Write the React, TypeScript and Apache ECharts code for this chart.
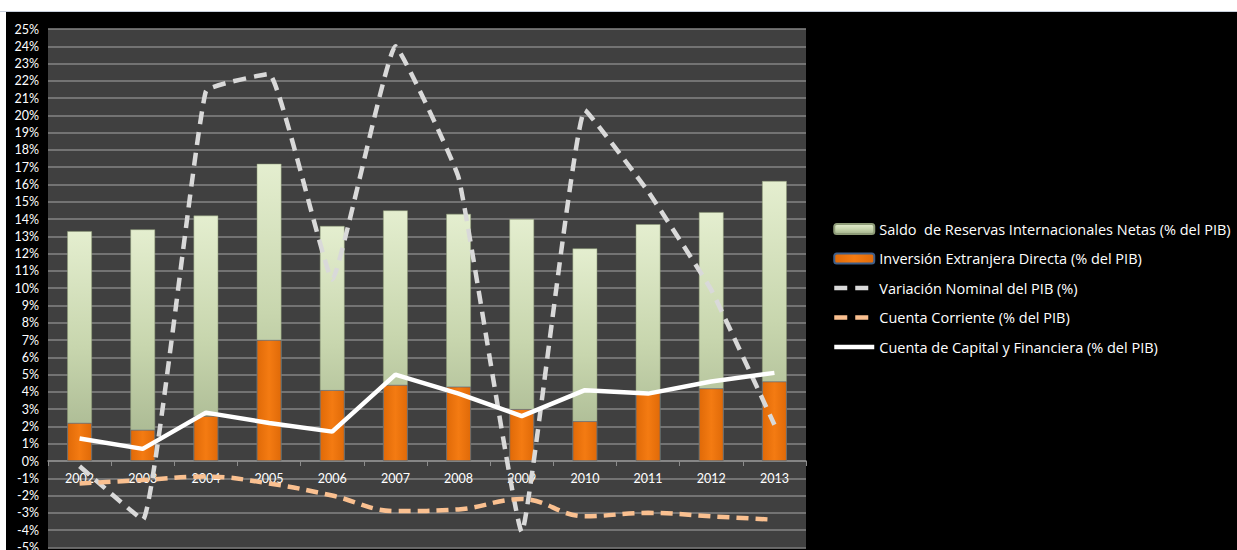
import React, { useEffect, useRef } from "react";
import * as echarts from "echarts";

const years = ["2002", "2003", "2004", "2005", "2006", "2007", "2008", "2009", "2010", "2011", "2012", "2013"];
const reservas = [13.3, 13.4, 14.2, 17.2, 13.6, 14.5, 14.3, 14.0, 12.3, 13.7, 14.4, 16.2];
const ied = [2.2, 1.8, 2.6, 7.0, 4.1, 4.4, 4.3, 3.0, 2.3, 4.0, 4.2, 4.6];
const variacionPib = [-0.3, -3.4, 21.4, 22.4, 10.5, 24.0, 16.4, -4.1, 20.3, 15.6, 9.9, 2.1];
const cuentaCorriente = [-1.3, -1.1, -0.9, -1.3, -2.0, -2.9, -2.8, -2.2, -3.2, -3.0, -3.2, -3.4];
const cuentaCapital = [1.3, 0.7, 2.8, 2.2, 1.7, 5.0, 3.9, 2.6, 4.1, 3.9, 4.6, 5.1];

const names = [
  "Saldo  de Reservas Internacionales Netas (% del PIB)",
  "Inversión Extranjera Directa (% del PIB)",
  "Variación Nominal del PIB (%)",
  "Cuenta Corriente (% del PIB)",
  "Cuenta de Capital y Financiera (% del PIB)",
];

const Y_MIN = -5;
const Y_MAX = 25;
const GRID_H = 518.4;

export default function App() {
  const ref = useRef<HTMLDivElement>(null);
  useEffect(() => {
    document.body.style.margin = "0";
    if (!ref.current) return;
    const chart = echarts.init(ref.current, null, { renderer: "svg" });
    const font = "Lato, 'Open Sans', sans-serif";
    const hiddenSymbol = { color: "rgba(0,0,0,0)", borderColor: "rgba(0,0,0,0)", borderWidth: 0 };
    chart.setOption({
      animation: false,
      backgroundColor: "#000000",
      textStyle: { fontFamily: font },
      grid: {
        left: 42,
        top: 17,
        width: 758,
        height: GRID_H,
        show: true,
        backgroundColor: "#404040",
        borderWidth: 0,
        containLabel: false,
        outerBoundsMode: "none",
      },
      legend: {
        orient: "vertical",
        left: 821,
        top: 203.5,
        itemWidth: 40,
        itemHeight: 10,
        itemGap: 12.5,
        textStyle: { color: "#ffffff", fontSize: 14.5, lineHeight: 17, fontFamily: "'Open Sans', Lato, sans-serif" },
        data: [
          { name: names[0] },
          { name: names[1] },
          { name: names[2], itemStyle: hiddenSymbol, lineStyle: { width: 4.5, type: [13, 8] } },
          { name: names[3], itemStyle: hiddenSymbol, lineStyle: { width: 4.5, type: [13, 8] } },
          { name: names[4], itemStyle: hiddenSymbol, lineStyle: { width: 4.5 } },
        ],
      },
      xAxis: {
        type: "category",
        data: years,
        position: "bottom",
        offset: -(GRID_H * (0 - Y_MIN)) / (Y_MAX - Y_MIN),
        axisLine: { show: true, onZero: false, lineStyle: { color: "#8c8c8c", width: 1.5 } },
        axisTick: { show: true, length: 5, alignWithLabel: false, lineStyle: { color: "#8c8c8c" } },
        axisLabel: { color: "#ffffff", fontSize: 12.5, margin: 11, fontFamily: font },
        splitLine: { show: false },
      },
      yAxis: {
        type: "value",
        min: Y_MIN,
        max: Y_MAX,
        interval: 1,
        axisLine: { show: false },
        axisTick: { show: false },
        axisLabel: { color: "#ffffff", fontSize: 12.5, margin: 9, formatter: "{value}%", fontFamily: font },
        splitLine: { show: true, lineStyle: { color: "#858585", width: 1.5 } },
      },
      series: [
        {
          name: names[0],
          type: "bar",
          data: reservas,
          barWidth: "39%",
          barGap: "-100%",
          itemStyle: {
            color: new echarts.graphic.LinearGradient(0, 0, 0, 1, [
              { offset: 0, color: "#e4eecf" },
              { offset: 0.5, color: "#c8d6ae" },
              { offset: 1, color: "#a3b28c" },
            ]),
            borderColor: "#8e9c78",
            borderWidth: 0.5,
          },
        },
        {
          name: names[1],
          type: "bar",
          data: ied,
          barWidth: "39%",
          barGap: "-100%",
          itemStyle: {
            color: new echarts.graphic.LinearGradient(0, 0, 1, 0, [
              { offset: 0, color: "#e06a08" },
              { offset: 0.5, color: "#f47b12" },
              { offset: 1, color: "#e06a08" },
            ]),
            borderColor: "#3f5f8a",
            borderWidth: 0.6,
          },
        },
        {
          name: names[2],
          type: "line",
          data: variacionPib,
          symbol: "circle",
          showSymbol: false,
          smooth: 0.1,
          lineStyle: { color: "#d9d9d9", width: 4.5, type: [13, 8] },
          itemStyle: { color: "#d9d9d9" },
        },
        {
          name: names[3],
          type: "line",
          data: cuentaCorriente,
          symbol: "circle",
          showSymbol: false,
          smooth: 0.4,
          lineStyle: { color: "#fac090", width: 4.5, type: [12, 7] },
          itemStyle: { color: "#fac090" },
        },
        {
          name: names[4],
          type: "line",
          data: cuentaCapital,
          symbol: "circle",
          showSymbol: false,
          smooth: false,
          lineStyle: { color: "#ffffff", width: 4.5 },
          itemStyle: { color: "#ffffff" },
        },
      ],
    });
    return () => chart.dispose();
  }, []);
  return (
    <div style={{ position: "relative", width: 1237, height: 550, background: "#ffffff", overflow: "hidden" }}>
      <div style={{ position: "absolute", left: 0, top: 11, width: 1237, height: 1, background: "#c8cfdc" }} />
      <div ref={ref} style={{ position: "absolute", left: 6, top: 12, width: 1231, height: 538 }} />
    </div>
  );
}
